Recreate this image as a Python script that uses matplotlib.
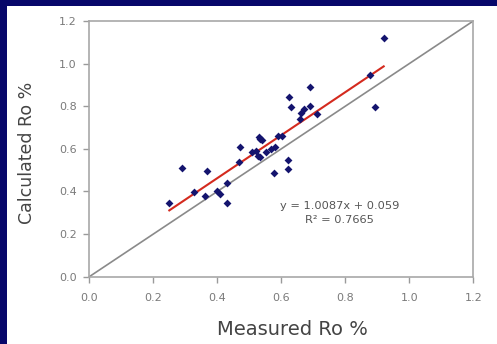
import numpy as np
import matplotlib
matplotlib.use("Agg")
import matplotlib.pyplot as plt
from matplotlib.patches import Rectangle

# measured vs calculated vitrinite reflectance
measured = [0.25, 0.289, 0.328, 0.360, 0.369, 0.399, 0.409, 0.431, 0.431, 0.469,
            0.471, 0.509, 0.520, 0.528, 0.533, 0.529, 0.534, 0.540, 0.551, 0.569,
            0.579, 0.578, 0.590, 0.602, 0.621, 0.621, 0.623, 0.629, 0.658, 0.661,
            0.670, 0.690, 0.691, 0.710, 0.878, 0.892, 0.920]
calculated = [0.344, 0.508, 0.396, 0.379, 0.494, 0.400, 0.388, 0.438, 0.344, 0.537,
              0.609, 0.585, 0.591, 0.566, 0.562, 0.657, 0.646, 0.643, 0.585, 0.598,
              0.609, 0.488, 0.662, 0.662, 0.549, 0.505, 0.843, 0.798, 0.740, 0.768,
              0.788, 0.890, 0.803, 0.763, 0.948, 0.796, 1.119]
slope, intercept, r2 = 1.0087, 0.059, 0.7665
ticks = [0.0, 0.2, 0.4, 0.6, 0.8, 1.0, 1.2]

plt.rcParams['font.family'] = ['DejaVu Sans']

fig = plt.figure(figsize=(4.97, 3.44), dpi=100)
fig.patch.set_facecolor('#07076a')
# white slide panel, behind the axes
fig.patches.append(Rectangle((7 / 497, 0), 1, (344 - 6) / 344,
                             transform=fig.transFigure, facecolor='white',
                             edgecolor='none', zorder=-10))

ax = fig.add_axes([0.1797, 0.1957, 0.7726, 0.7433])
ax.set_facecolor('white')

# 1:1 line
ax.plot([0, 1.2], [0, 1.2], color='#8a8a8a', lw=1.2, zorder=2)

# regression line
fx = np.linspace(min(measured), max(measured), 50)
ax.plot(fx, slope * fx + intercept, color='#d42a1e', lw=1.5, zorder=3)

ax.scatter(measured, calculated, marker='D', s=16, color='#14146e', zorder=4,
           linewidths=0)

ax.text(0.783, 0.30, "y = %.4fx + %.3f\nR\u00b2 = %.4f" % (slope, intercept, r2),
        ha='center', va='center', fontsize=8.2, color='#555555', linespacing=1.5)

ax.set_xlim(0, 1.2)
ax.set_ylim(0, 1.2)
ax.set_xticks(ticks)
ax.set_yticks(ticks)
ax.set_xticklabels(['%.1f' % t for t in ticks])
ax.set_yticklabels(['%.1f' % t for t in ticks])
ax.tick_params(direction='out', length=4, width=1, color='#9a9a9a',
               labelcolor='#7a7a7a', labelsize=8)
ax.tick_params(axis='x', pad=8)
ax.tick_params(axis='y', pad=5)
for s in ax.spines.values():
    s.set_color('#a8a8a8')
    s.set_linewidth(1.2)

ax.set_xlabel('Measured Ro %', fontsize=14, color='#444444')
ax.set_ylabel('Calculated Ro %', fontsize=12.5, color='#444444')
ax.xaxis.set_label_coords(0.53, -0.17)
ax.yaxis.set_label_coords(-0.14, 0.484)

fig.savefig('out.png', dpi=100, facecolor=fig.get_facecolor())
